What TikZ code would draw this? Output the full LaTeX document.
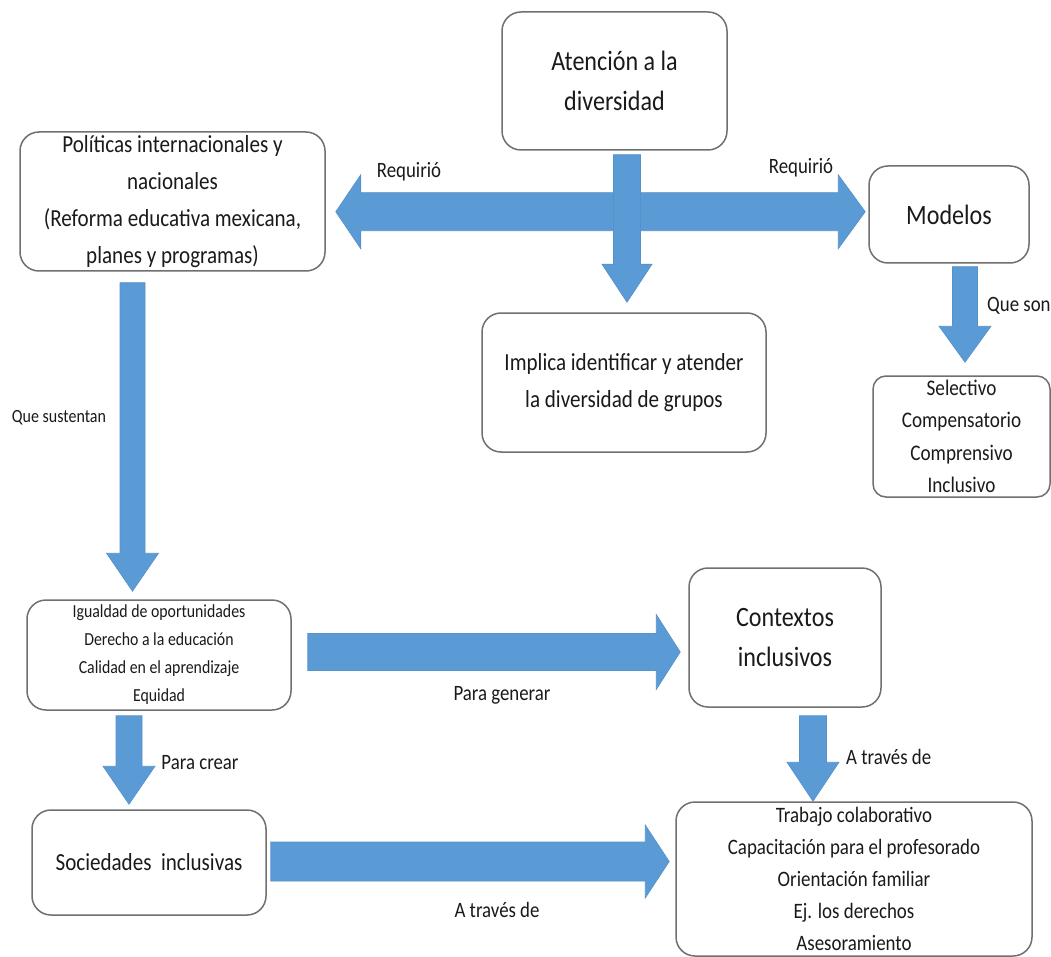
\documentclass[tikz,border=0pt]{standalone}
\usepackage{fontspec}
\setmainfont{Carlito}[FakeStretch=0.86]
\usetikzlibrary{calc}
\definecolor{arrowblue}{HTML}{5B9BD5}
\definecolor{arrowedge}{HTML}{5591CB}
\definecolor{boxline}{HTML}{707070}
\definecolor{txt}{HTML}{1A1A1A}
\newcommand\blkdown[5]{\filldraw[arrowfill] let \p1=(#1),\p2=(#2) in
 ({\x1-#3/2},\y1) -- ({\x1+#3/2},\y1) -- ({\x1+#3/2},{\y2+#5}) -- ({\x1+#4/2},{\y2+#5}) -- (\x1,\y2) -- ({\x1-#4/2},{\y2+#5}) -- ({\x1-#3/2},{\y2+#5}) -- cycle;}
\newcommand\blkright[5]{\filldraw[arrowfill] let \p1=(#1),\p2=(#2) in
 (\x1,{\y1+#3/2}) -- ({\x2-#5},{\y1+#3/2}) -- ({\x2-#5},{\y1+#4/2}) -- (\x2,\y1) -- ({\x2-#5},{\y1-#4/2}) -- ({\x2-#5},{\y1-#3/2}) -- (\x1,{\y1-#3/2}) -- cycle;}
\newcommand\blkleft[5]{\filldraw[arrowfill] let \p1=(#1),\p2=(#2) in
 (\x1,{\y1+#3/2}) -- ({\x2+#5},{\y1+#3/2}) -- ({\x2+#5},{\y1+#4/2}) -- (\x2,\y1) -- ({\x2+#5},{\y1-#4/2}) -- ({\x2+#5},{\y1-#3/2}) -- (\x1,{\y1-#3/2}) -- cycle;}
\begin{document}
\begin{tikzpicture}[x=1pt,y=-1pt,
  box/.style={draw=boxline, line width=1.5pt, rounded corners=19pt, fill=white,
    align=center, inner sep=0pt, text=txt},
  hdr/.style={font=\fontsize{28}{40}\selectfont},
  mid/.style={font=\fontsize{24.5}{37}\selectfont},
  lstA/.style={font=\fontsize{22.3}{32.5}\selectfont},
  lstB/.style={font=\fontsize{18.4}{28}\selectfont},
  lstC/.style={font=\fontsize{22}{32}\selectfont},
  lbl/.style={font=\fontsize{21.9}{26}\selectfont, inner sep=0pt, text=txt},
  arrowfill/.style={fill=arrowblue, draw=arrowedge, line width=0.6pt}]
\useasboundingbox (0,0) rectangle (1051,957);
\fill[white] (0,0) rectangle (1051,957);

% boxes
\node[box,hdr,minimum width=225pt,minimum height=138pt] (atn) at (614.5,81) {Atención a la\\diversidad};
\node[box,mid,minimum width=305pt,minimum height=139pt] (pol) at (172.5,201.5)
  {Políticas internacionales y\\nacionales\\(Reforma educativa mexicana,\\planes y programas)};
\node[box,hdr,minimum width=160pt,minimum height=97pt] (mod) at (949,214.5) {Modelos};
\node[box,mid,minimum width=284pt,minimum height=139pt] (imp) at (624,382.5)
  {Implica identificar y atender\\la diversidad de grupos};
\node[box,lstA,rounded corners=13pt,minimum width=177pt,minimum height=121pt] (sel) at (961.5,436.5)
  {Selectivo\\Compensatorio\\Comprensivo\\Inclusivo};
\node[box,lstB,minimum width=264pt,minimum height=110pt] (igu) at (159,655)
  {Igualdad de oportunidades\\Derecho a la educación\\Calidad en el aprendizaje\\Equidad};
\node[box,hdr,minimum width=192pt,minimum height=139pt] (ctx) at (785,637.5) {Contextos\\inclusivos};
\node[box,mid,minimum width=234pt,minimum height=105pt] (soc) at (149,862.5) {Sociedades\ \ inclusivas};
\node[box,lstC,minimum width=356pt,minimum height=154pt] (tra) at (854,879)
  {Trabajo colaborativo\\Capacitación para el profesorado\\Orientación familiar\\Ej. los derechos\\Asesoramiento};

% arrow end points
\coordinate (v1s) at ($(atn.south)+(12.5,4)$);
\coordinate (v1t) at ($(v1s |- imp.north)+(0,-10)$);
\coordinate (hc) at ($(v1s)+(0,57)$);
\coordinate (hl) at ($(hc -| pol.east)+(10,0)$);
\coordinate (hr) at ($(hc -| mod.west)+(-3,0)$);
\coordinate (m1s) at ($(mod.south)+(16,3)$);
\coordinate (m1t) at ($(m1s |- sel.north)+(0,-13)$);
\coordinate (p1s) at ($(pol.south)+(-40,11)$);
\coordinate (p1t) at ($(p1s |- igu.north)+(0,-8)$);
\coordinate (i1s) at ($(igu.south)+(-30,5)$);
\coordinate (i1t) at ($(i1s |- soc.north)+(0,-5)$);
\coordinate (c1s) at ($(ctx.south)+(28,8)$);
\coordinate (c1t) at ($(c1s |- tra.north)$);
\coordinate (g1s) at ($(igu.east)+(16,-3)$);
\coordinate (g1t) at ($(g1s -| ctx.west)+(-8,0)$);
\coordinate (b1s) at ($(soc.east)+(4,-1)$);
\coordinate (b1t) at ($(b1s -| tra.west)+(-6,0)$);

% arrows
\blkleft{hc}{hl}{38pt}{74pt}{25pt}
\blkright{hc}{hr}{38pt}{74pt}{27pt}
\blkdown{v1s}{v1t}{27pt}{50pt}{38pt}
\blkdown{m1s}{m1t}{25pt}{52pt}{36pt}
\blkdown{p1s}{p1t}{25pt}{52pt}{38pt}
\blkdown{i1s}{i1t}{26pt}{52pt}{38pt}
\blkdown{c1s}{c1t}{27pt}{52pt}{39pt}
\blkright{g1s}{g1t}{37pt}{75pt}{24pt}
\blkright{b1s}{b1t}{39pt}{73pt}{24pt}

% labels
\node[lbl] (lreqL) at (409,172) {Requirió};
\node[lbl] (lreqR) at (801,168) {Requirió};
\node[lbl,anchor=west] (lqson) at (987,306) {Que son};
\node[lbl,font=\fontsize{18.6}{22}\selectfont] (lsust) at (59,418) {Que sustentan};
\node[lbl] (lcrear) at (200,763) {Para crear};
\node[lbl] (lgen) at (502,695) {Para generar};
\node[lbl,anchor=west] (latR) at (846,757) {A través de};
\node[lbl] (latB) at (497,910) {A través de};
\end{tikzpicture}
\end{document}
